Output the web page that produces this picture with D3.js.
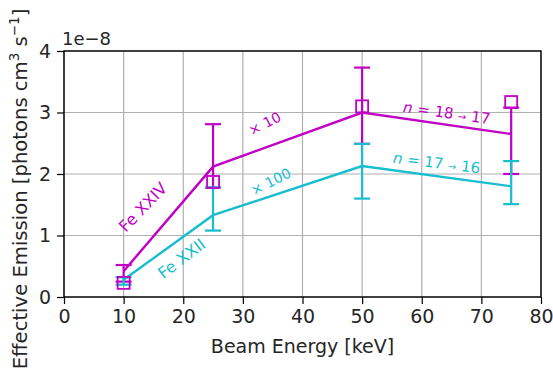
<!DOCTYPE html>
<html>
<head>
<meta charset="utf-8">
<script src="https://cdn.jsdelivr.net/npm/d3@7"></script>
<style>
  body { margin: 0; background: #fff; }
  svg { font-family: "DejaVu Sans", sans-serif; }
</style>
</head>
<body>
<div id="chart"></div>
<script>
// data (values in units of 1e-8)
const energies = [10, 25, 50, 75]
const xTicks = [0, 10, 20, 30, 40, 50, 60, 70, 80]
const yTicks = [0, 1, 2, 3, 4]

// Fe XXIV (x10)
const feXXIVLine = [0.42, 2.12, 3.0, 2.65]
const feXXIVSquare = [0.23, 1.87, 3.1, 3.17]
const feXXIVLow = [0.25, 1.78, 2.49, 2.0]
const feXXIVHigh = [0.52, 2.81, 3.73, 3.08]

// Fe XXII (x100)
const feXXIILine = [0.28, 1.33, 2.13, 1.80]
const feXXIILow = [0.2, 1.08, 1.60, 1.51]
const feXXIIHigh = [0.32, 1.78, 2.49, 2.21]

const magenta = '#c000c4', cyan = '#17becf'

const width = 553, height = 377
const margin = {left: 64, right: 12, top: 51, bottom: 80}

const svg = d3.select('#chart')
  .append('svg')
  .attr('width', width)
  .attr('height', height)

const xScale = d3.scaleLinear()
  .domain([0, 80])
  .range([margin.left, width - margin.right])

const yScale = d3.scaleLinear()
  .domain([0, 4])
  .range([height - margin.bottom, margin.top])

// grid
svg.append('g')
  .selectAll('line')
  .data(xTicks)
  .join('line')
  .attr('x1', d => xScale(d)).attr('x2', d => xScale(d))
  .attr('y1', yScale(0)).attr('y2', yScale(4))
  .attr('stroke', '#b0b0b0').attr('stroke-width', 1.2)
svg.append('g')
  .selectAll('line')
  .data(yTicks)
  .join('line')
  .attr('x1', xScale(0)).attr('x2', xScale(80))
  .attr('y1', d => yScale(d)).attr('y2', d => yScale(d))
  .attr('stroke', '#b0b0b0').attr('stroke-width', 1.2)

// axes
const xAxis = d3.axisBottom(xScale).tickValues(xTicks).tickSizeInner(7).tickSizeOuter(0).tickPadding(6)
const yAxis = d3.axisLeft(yScale).tickValues(yTicks).tickFormat(d3.format('d')).tickSizeInner(7).tickSizeOuter(0).tickPadding(6)

const xg = svg.append('g')
  .attr('transform', `translate(0,${yScale(0)})`)
  .call(xAxis)
const yg = svg.append('g')
  .attr('transform', `translate(${xScale(0)},0)`)
  .call(yAxis)
;[xg, yg].forEach(g => {
  g.select('.domain').remove()
  g.selectAll('text').attr('font-size', 19).attr('fill', '#262626').attr('font-family', 'DejaVu Sans')
  g.selectAll('line').attr('stroke', '#000').attr('stroke-width', 1.2)
})

// frame
svg.append('rect')
  .attr('x', xScale(0)).attr('y', yScale(4))
  .attr('width', xScale(80) - xScale(0))
  .attr('height', yScale(0) - yScale(4))
  .attr('fill', 'none').attr('stroke', '#000').attr('stroke-width', 1.4)

// error bars
function errorBars(low, high, color) {
  const g = svg.append('g').attr('stroke', color).attr('stroke-width', 2.2).attr('fill', 'none')
  energies.forEach((e, i) => {
    const x = xScale(e)
    g.append('line').attr('x1', x).attr('x2', x).attr('y1', yScale(low[i])).attr('y2', yScale(high[i]))
    g.append('line').attr('x1', x - 8).attr('x2', x + 8).attr('y1', yScale(low[i])).attr('y2', yScale(low[i]))
    g.append('line').attr('x1', x - 8).attr('x2', x + 8).attr('y1', yScale(high[i])).attr('y2', yScale(high[i]))
  })
}

const line = d3.line()
  .x((d, i) => xScale(energies[i]))
  .y(d => yScale(d))

errorBars(feXXIVLow, feXXIVHigh, magenta)
svg.append('path')
  .datum(feXXIVLine)
  .attr('d', line)
  .attr('fill', 'none').attr('stroke', magenta).attr('stroke-width', 2.4)

errorBars(feXXIILow, feXXIIHigh, cyan)
svg.append('path')
  .datum(feXXIILine)
  .attr('d', line)
  .attr('fill', 'none').attr('stroke', cyan).attr('stroke-width', 2.4)

// squares
svg.append('g')
  .selectAll('rect')
  .data(feXXIVSquare)
  .join('rect')
  .attr('x', (d, i) => xScale(energies[i]) - 6)
  .attr('y', d => yScale(d) - 6)
  .attr('width', 12).attr('height', 12)
  .attr('fill', 'none').attr('stroke', magenta).attr('stroke-width', 1.8)

// annotations
function note(x, y, angle, color, size, parts) {
  const t = svg.append('text')
    .attr('transform', `translate(${x},${y}) rotate(${angle})`)
    .attr('text-anchor', 'middle')
    .attr('fill', color)
    .attr('font-size', size)
  parts.forEach(p => {
    const s = t.append('tspan').text(p.t)
    if (p.style) s.attr('font-style', p.style)
    if (p.size) s.attr('font-size', p.size)
  })
}
note(147, 211, -46, magenta, 16, [{t: 'Fe XXIV'}])
note(185, 263, -37, cyan, 16, [{t: 'Fe XXII'}])
note(267, 128, -27, magenta, 14, [{t: '× 10'}])
note(273, 186, -27, cyan, 14, [{t: '× 100'}])
note(446, 118, 8, magenta, 15, [{t: 'n', style: 'italic'}, {t: ' = 18 '}, {t: '→', size: 10}, {t: ' 17'}])
note(436, 168, 7, cyan, 15, [{t: 'n', style: 'italic'}, {t: ' = 17 '}, {t: '→', size: 10}, {t: ' 16'}])

// offset text
svg.append('text')
  .attr('x', 62).attr('y', 45)
  .attr('font-size', 18).attr('fill', '#262626')
  .text('1e−8')

// axis labels
svg.append('text')
  .attr('x', (xScale(0) + xScale(80)) / 2).attr('y', 353)
  .attr('text-anchor', 'middle')
  .attr('font-size', 19).attr('fill', '#262626')
  .text('Beam Energy [keV]')

const yl = svg.append('text')
  .attr('transform', `translate(27,189) rotate(-90)`)
  .attr('text-anchor', 'middle')
  .attr('font-size', 19.6).attr('fill', '#262626')
yl.append('tspan').text('Effective Emission [photons cm')
yl.append('tspan').text('3').attr('font-size', 13.5).attr('dy', -8)
yl.append('tspan').text(' s').attr('font-size', 19.6).attr('dy', 8)
yl.append('tspan').text('−1').attr('font-size', 13.5).attr('dy', -8)
yl.append('tspan').text(']').attr('font-size', 19.6).attr('dy', 8)
</script>
</body>
</html>
